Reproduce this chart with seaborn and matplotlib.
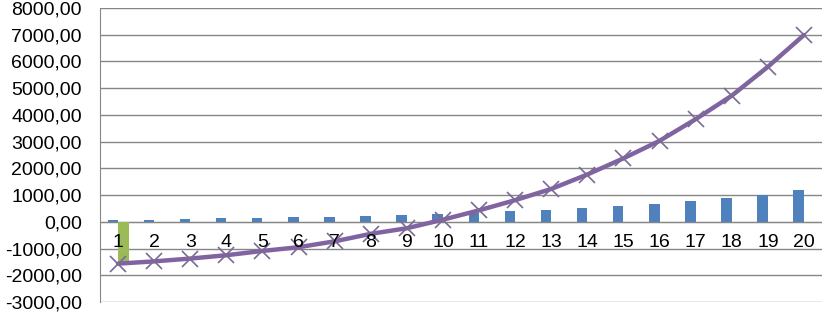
import pandas as pd
import seaborn as sns
import matplotlib.pyplot as plt
from matplotlib.ticker import FuncFormatter, MultipleLocator

# Data
periods = ['1', '2', '3', '4', '5', '6', '7', '8', '9', '10',
           '11', '12', '13', '14', '15', '16', '17', '18', '19', '20']
blue_vals = [60, 85, 100, 125, 150, 170, 190, 215, 250, 290,
             320, 390, 430, 505, 580, 665, 780, 890, 1020, 1180]
green_vals = [-1630, 0, 0, 0, 0, 0, 0, 0, 0, 0,
              0, 0, 0, 0, 0, 0, 0, 0, 0, 0]
line_vals = [-1565, -1480, -1375, -1250, -1090, -950, -730, -450, -240, 80,
             430, 810, 1230, 1770, 2375, 3030, 3840, 4720, 5800, 6990]

sns.set_style('white')
plt.rcParams['font.family'] = ['Liberation Sans', 'DejaVu Sans']
plt.rcParams['axes.unicode_minus'] = False

# Long form table for the grouped bars
df_bars = pd.DataFrame({
    'period': periods * 2,
    'value': blue_vals + green_vals,
    'series': ['blue'] * len(periods) + ['green'] * len(periods),
})

fig = plt.figure(figsize=(8.22, 3.12), dpi=100)
ax = fig.add_axes([100 / 822, 10 / 312, 722 / 822, 294 / 312])

sns.barplot(data=df_bars, x='period', y='value', hue='series', order=periods,
            palette={'blue': '#4F81BD', 'green': '#9BBB59'}, width=0.58,
            gap=0, saturation=1, linewidth=0, legend=False, ax=ax, zorder=2)

df_line = pd.DataFrame({'pos': range(len(periods)), 'value': line_vals})
sns.lineplot(data=df_line, x='pos', y='value', color='#8064A2', linewidth=3.2,
             marker='x', markersize=11, markeredgewidth=1.2,
             markeredgecolor='#7A6A95', ax=ax, zorder=3)

ax.set_xlim(-0.5, len(periods) - 0.5)
ax.set_ylim(-3000, 8000)
ax.yaxis.set_major_locator(MultipleLocator(1000))
ax.yaxis.set_major_formatter(FuncFormatter(lambda v, p: f'{v:.2f}'.replace('.', ',')))
ax.grid(axis='y', color='#868686', linewidth=1)
ax.set_axisbelow(True)
# category labels sit on top of the bars and the line
ax.xaxis.set_zorder(4)

ax.spines['top'].set_visible(False)
ax.spines['right'].set_visible(False)
ax.spines['left'].set_color('#868686')
ax.spines['bottom'].set_color('#868686')
ax.spines['bottom'].set_position(('data', 0))
ax.spines['bottom'].set_zorder(1)

ax.set_xticks(range(len(periods)))
ax.set_xticklabels(periods)
ax.tick_params(axis='x', length=0, pad=9, labelsize=14, labelcolor='black')
ax.tick_params(axis='y', length=0, pad=13, labelsize=14, labelcolor='black')
ax.set_xlabel('')
ax.set_ylabel('')

fig.savefig('out.png', dpi=100)
